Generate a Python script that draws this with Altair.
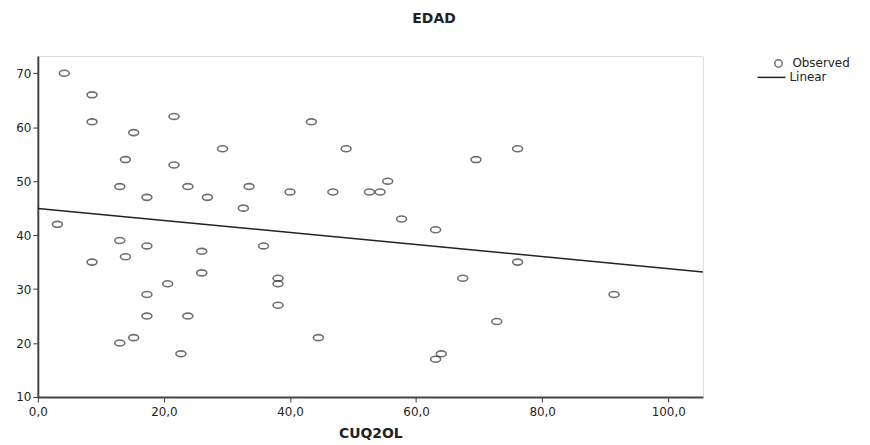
import altair as alt
import pandas as pd

cuq2ol = [4.2, 8.6, 8.6, 15.2, 21.6, 29.3, 13.9, 21.6, 13.0, 23.8, 33.5, 17.3, 26.9, 32.6, 40.0, 3.1,
          43.4, 48.9, 46.8, 52.6, 54.3, 55.5, 57.7, 63.1, 69.5, 76.1,
          13.0, 17.3, 13.9, 8.6, 26.0, 26.0, 20.6, 17.3, 17.3, 23.8, 13.0, 15.2, 22.7, 35.8, 38.1, 38.1, 38.1,
          44.5, 63.1, 64.0, 67.4, 76.1, 72.8, 91.4]
edad = [70, 66, 61, 59, 62, 56, 54, 53, 49, 49, 49, 47, 47, 45, 48, 42,
        61, 56, 48, 48, 48, 50, 43, 41, 54, 56,
        39, 38, 36, 35, 37, 33, 31, 29, 25, 25, 20, 21, 18, 38, 32, 31, 27,
        21, 17, 18, 32, 35, 24, 29]

x_ticks = [0, 20, 40, 60, 80, 100]
y_ticks = [10, 20, 30, 40, 50, 60, 70]
legend_labels = ["Observed", "Linear"]

df = pd.DataFrame({"CUQ2OL": cuq2ol, "EDAD": edad})

FONT = "DejaVu Sans"
x_scale = alt.Scale(domain=[0, 105.5], nice=False, zero=False)
y_scale = alt.Scale(domain=[10, 73.2], nice=False, zero=False)

x_axis = alt.Axis(values=x_ticks, labelExpr="replace(format(datum.value, '.1f'), '.', ',')",
                  grid=False, tickSize=5, tickColor="#333", domainColor="#444", domainWidth=2,
                  labelFont=FONT, labelFontSize=12, labelColor="#222", labelPadding=5,
                  labelFlush=False,
                  title="CUQ2OL", titleFont=FONT, titleFontSize=14, titleFontWeight="bold",
                  titleColor="#222", titlePadding=9)
y_axis = alt.Axis(values=y_ticks, grid=False, tickSize=5, tickColor="#333", domainColor="#444",
                  domainWidth=2, labelFont=FONT, labelFontSize=12, labelColor="#222",
                  labelPadding=2, labelFlush=False, title=None)

ellipse = "M -1 0 A 1 0.6 0 1 0 1 0 A 1 0.6 0 1 0 -1 0 Z"

base = alt.Chart(df)

points = base.mark_point(shape=ellipse, size=100, filled=False, stroke="#333",
                         strokeWidth=1.6).encode(
    x=alt.X("CUQ2OL:Q", scale=x_scale, axis=x_axis),
    y=alt.Y("EDAD:Q", scale=y_scale, axis=y_axis),
)

line = base.transform_regression("CUQ2OL", "EDAD", extent=[0, 105.5]).mark_line(
    color="#222", strokeWidth=1.5, clip=True).encode(
    x=alt.X("CUQ2OL:Q", scale=x_scale),
    y=alt.Y("EDAD:Q", scale=y_scale),
)

leg_obs = alt.Chart(pd.DataFrame({"label": [legend_labels[0]]}))
leg_lin = alt.Chart(pd.DataFrame({"label": [legend_labels[1]]}))

leg_sym = leg_obs.mark_point(shape="circle", size=55, filled=False, stroke="#333",
                             strokeWidth=1.5).encode(x=alt.value(745), y=alt.value(7.5))
leg_txt1 = leg_obs.mark_text(align="left", baseline="middle", font=FONT, fontSize=12,
                             color="#222").encode(x=alt.value(759), y=alt.value(7.5), text="label:N")
leg_rule = leg_lin.mark_rule(color="#222", strokeWidth=1.5).encode(
    x=alt.value(724), x2=alt.value(752), y=alt.value(21.5))
leg_txt2 = leg_lin.mark_text(align="left", baseline="middle", font=FONT, fontSize=12,
                             color="#222").encode(x=alt.value(756), y=alt.value(21.5), text="label:N")

chart = alt.layer(points, line, leg_sym, leg_txt1, leg_rule, leg_txt2).properties(
    width=669, height=343,
    autosize=alt.AutoSizeParams(type="none"),
    padding={"left": 30, "top": 47, "right": 160, "bottom": 46},
    title=alt.TitleParams("EDAD", font=FONT, fontSize=14, fontWeight="bold", color="#222",
                          anchor="middle", dx=64, offset=30),
).configure_view(
    fill="#f0f0f0", stroke="#666", strokeWidth=1.5
).configure(background="white")

chart.save("out.html", embed_options={"renderer": "svg", "actions": False})
